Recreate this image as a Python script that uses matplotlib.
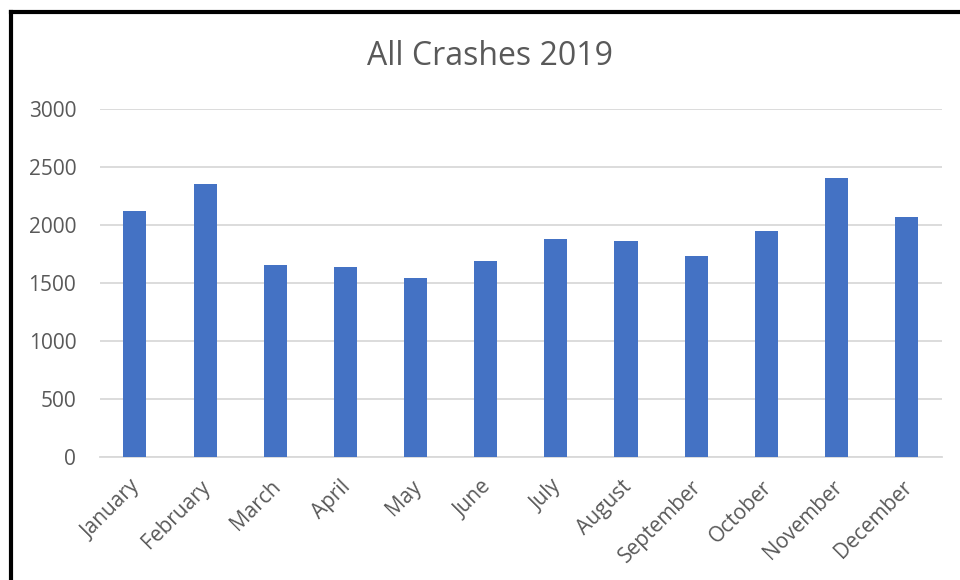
import matplotlib.pyplot as plt
from matplotlib.lines import Line2D
from matplotlib.transforms import ScaledTranslation

months = ["January", "February", "March", "April", "May", "June",
          "July", "August", "September", "October", "November", "December"]
crashes = [2121, 2353, 1655, 1638, 1543, 1690, 1879, 1862, 1733, 1948, 2405, 2069]
yticks = [0, 500, 1000, 1500, 2000, 2500, 3000]


def main():
    plt.rcParams["font.family"] = ["Open Sans", "DejaVu Sans"]
    text_color = "#595959"

    fig = plt.figure(figsize=(9.6, 5.8), dpi=100)
    ax = fig.add_axes([0.104, 0.212, 0.877, 0.600])

    x = range(len(months))
    ax.bar(x, crashes, width=0.33, color="#4472C4", zorder=3)

    ax.set_ylim(0, 3000)
    ax.set_xlim(-0.5, len(months) - 0.5)
    ax.set_yticks(yticks)
    ax.set_xticks(list(x))
    ax.set_xticklabels(months, rotation=45, ha="right", rotation_mode="anchor")
    ax.tick_params(axis="both", length=0, labelsize=15, colors=text_color)
    ax.tick_params(axis="y", pad=17)
    ax.tick_params(axis="x", pad=14)

    # nudge the slanted month labels a little to the left
    shift = ScaledTranslation(-5 / 100, 0, fig.dpi_scale_trans)
    for label in ax.get_xticklabels():
        label.set_transform(label.get_transform() + shift)

    ax.grid(axis="y", color="#D9D9D9", linewidth=1.3, zorder=0)
    for side in ["top", "right", "left"]:
        ax.spines[side].set_visible(False)
    ax.spines["bottom"].set_color("#D9D9D9")
    ax.spines["bottom"].set_linewidth(1.3)

    fig.text(0.51, 0.902, "All Crashes 2019", ha="center", va="center",
             fontsize=23, color=text_color)

    # black frame on the left and top edge, as in the screenshot
    fig.add_artist(Line2D([10.5 / 960, 10.5 / 960], [0, 1 - 11.5 / 580],
                          transform=fig.transFigure, color="black", linewidth=3))
    fig.add_artist(Line2D([10.5 / 960, 1], [1 - 11.5 / 580, 1 - 11.5 / 580],
                          transform=fig.transFigure, color="black", linewidth=3,
                          solid_capstyle="projecting"))

    fig.savefig("out.png", dpi=100, facecolor="white")


if __name__ == "__main__":
    main()
